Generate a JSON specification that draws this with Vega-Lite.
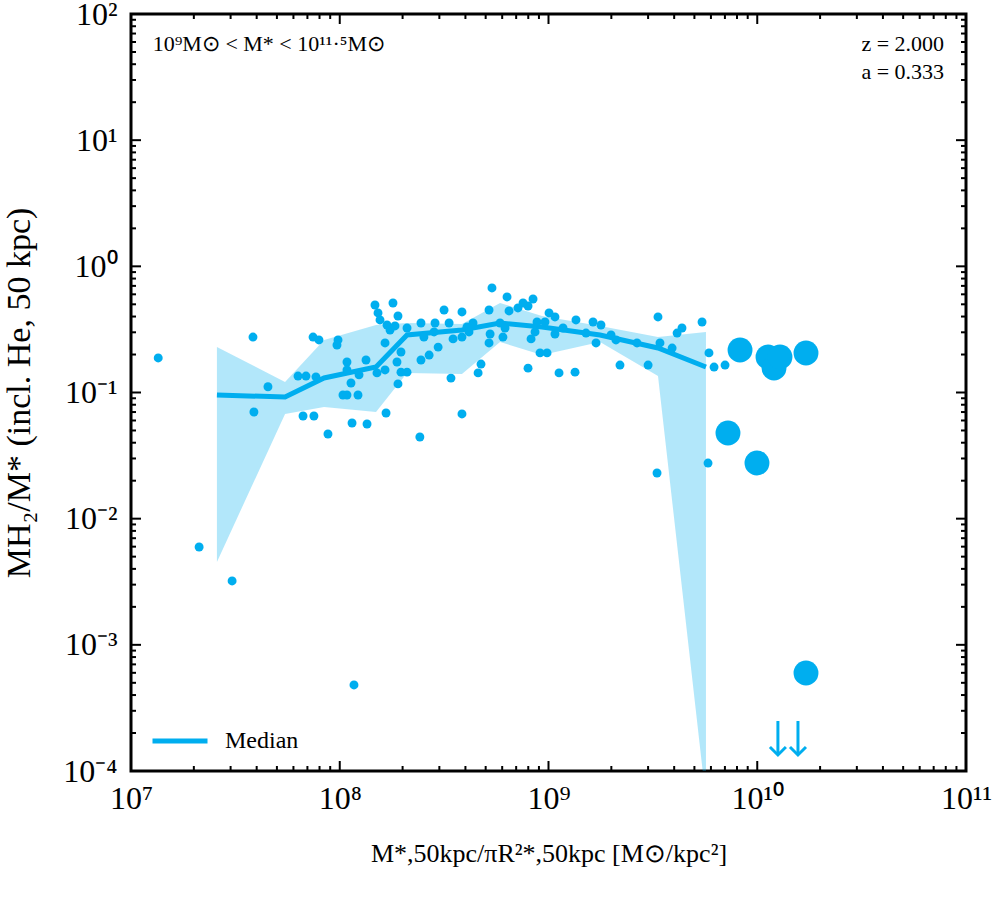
{
  "$schema": "https://vega.github.io/schema/vega-lite/v6.json",
  "width": 835,
  "height": 757,
  "autosize": "none",
  "padding": {"left": 131, "top": 14, "right": 30, "bottom": 129},
  "background": "white",
  "datasets": {
    "galaxies": [
      {"density": 1.35e7, "h2_frac": 0.188}, {"density": 2.12e7, "h2_frac": 0.00596}, {"density": 3.05e7, "h2_frac": 0.00321},
      {"density": 3.84e7, "h2_frac": 0.275}, {"density": 3.88e7, "h2_frac": 0.0701}, {"density": 4.53e7, "h2_frac": 0.111},
      {"density": 6.31e7, "h2_frac": 0.135}, {"density": 6.89e7, "h2_frac": 0.135}, {"density": 7.69e7, "h2_frac": 0.133},
      {"density": 6.67e7, "h2_frac": 0.0651}, {"density": 7.52e7, "h2_frac": 0.0651}, {"density": 7.45e7, "h2_frac": 0.275},
      {"density": 7.95e7, "h2_frac": 0.261}, {"density": 9.81e7, "h2_frac": 0.261}, {"density": 9.70e7, "h2_frac": 0.238},
      {"density": 8.78e7, "h2_frac": 0.0469}, {"density": 1.17e8, "h2_frac": 0.000481}, {"density": 1.083e8, "h2_frac": 0.1745},
      {"density": 1.083e8, "h2_frac": 0.151}, {"density": 1.132e8, "h2_frac": 0.119}, {"density": 1.036e8, "h2_frac": 0.0956},
      {"density": 1.083e8, "h2_frac": 0.0956}, {"density": 1.223e8, "h2_frac": 0.0956}, {"density": 1.237e8, "h2_frac": 0.138},
      {"density": 1.336e8, "h2_frac": 0.181}, {"density": 1.145e8, "h2_frac": 0.0573}, {"density": 1.351e8, "h2_frac": 0.0563},
      {"density": 1.475e8, "h2_frac": 0.494}, {"density": 1.799e8, "h2_frac": 0.512}, {"density": 1.525e8, "h2_frac": 0.427},
      {"density": 1.901e8, "h2_frac": 0.404}, {"density": 1.559e8, "h2_frac": 0.376}, {"density": 1.684e8, "h2_frac": 0.343},
      {"density": 1.741e8, "h2_frac": 0.313}, {"density": 1.839e8, "h2_frac": 0.337}, {"density": 1.648e8, "h2_frac": 0.247},
      {"density": 1.508e8, "h2_frac": 0.143}, {"density": 1.648e8, "h2_frac": 0.151}, {"density": 1.666e8, "h2_frac": 0.0688},
      {"density": 1.901e8, "h2_frac": 0.117}, {"density": 1.965e8, "h2_frac": 0.145}, {"density": 2.10e8, "h2_frac": 0.145},
      {"density": 1.965e8, "h2_frac": 0.2095}, {"density": 1.880e8, "h2_frac": 0.1745}, {"density": 2.10e8, "h2_frac": 0.3245},
      {"density": 2.45e8, "h2_frac": 0.3555}, {"density": 2.53e8, "h2_frac": 0.275}, {"density": 2.45e8, "h2_frac": 0.181},
      {"density": 2.68e8, "h2_frac": 0.198}, {"density": 2.96e8, "h2_frac": 0.229}, {"density": 2.42e8, "h2_frac": 0.0444},
      {"density": 2.86e8, "h2_frac": 0.3555}, {"density": 3.16e8, "h2_frac": 0.451}, {"density": 3.85e8, "h2_frac": 0.435},
      {"density": 3.34e8, "h2_frac": 0.3555}, {"density": 5.36e8, "h2_frac": 0.674}, {"density": 6.33e8, "h2_frac": 0.572},
      {"density": 5.19e8, "h2_frac": 0.451}, {"density": 6.47e8, "h2_frac": 0.443}, {"density": 7.14e8, "h2_frac": 0.468},
      {"density": 7.55e8, "h2_frac": 0.512}, {"density": 7.98e8, "h2_frac": 0.485}, {"density": 8.43e8, "h2_frac": 0.551},
      {"density": 2.83e8, "h2_frac": 0.302}, {"density": 3.49e8, "h2_frac": 0.266}, {"density": 3.85e8, "h2_frac": 0.275},
      {"density": 4.07e8, "h2_frac": 0.331}, {"density": 4.35e8, "h2_frac": 0.3555}, {"density": 4.16e8, "h2_frac": 0.302},
      {"density": 3.41e8, "h2_frac": 0.130}, {"density": 4.75e8, "h2_frac": 0.168}, {"density": 4.60e8, "h2_frac": 0.143},
      {"density": 5.19e8, "h2_frac": 0.247}, {"density": 5.25e8, "h2_frac": 0.291}, {"density": 6.05e8, "h2_frac": 0.275},
      {"density": 6.19e8, "h2_frac": 0.3245}, {"density": 5.86e8, "h2_frac": 0.3555}, {"density": 3.85e8, "h2_frac": 0.0676},
      {"density": 7.98e8, "h2_frac": 0.156}, {"density": 9.11e8, "h2_frac": 0.206}, {"density": 9.84e8, "h2_frac": 0.206},
      {"density": 8.25e8, "h2_frac": 0.266}, {"density": 8.62e8, "h2_frac": 0.302}, {"density": 8.81e8, "h2_frac": 0.362},
      {"density": 9.62e8, "h2_frac": 0.362}, {"density": 1.006e9, "h2_frac": 0.427}, {"density": 1.074e9, "h2_frac": 0.397},
      {"density": 1.074e9, "h2_frac": 0.291}, {"density": 1.174e9, "h2_frac": 0.3245}, {"density": 1.123e9, "h2_frac": 0.143},
      {"density": 1.34e9, "h2_frac": 0.145}, {"density": 1.354e9, "h2_frac": 0.376}, {"density": 1.634e9, "h2_frac": 0.362},
      {"density": 1.784e9, "h2_frac": 0.343}, {"density": 1.512e9, "h2_frac": 0.296}, {"density": 1.689e9, "h2_frac": 0.247},
      {"density": 1.993e9, "h2_frac": 0.286}, {"density": 2.105e9, "h2_frac": 0.261}, {"density": 2.654e9, "h2_frac": 0.247},
      {"density": 3.346e9, "h2_frac": 0.397}, {"density": 2.20e9, "h2_frac": 0.165}, {"density": 3.00e9, "h2_frac": 0.165},
      {"density": 3.42e9, "h2_frac": 0.247}, {"density": 3.91e9, "h2_frac": 0.225}, {"density": 4.13e9, "h2_frac": 0.296},
      {"density": 4.36e9, "h2_frac": 0.3245}, {"density": 5.44e9, "h2_frac": 0.362}, {"density": 5.87e9, "h2_frac": 0.206},
      {"density": 6.21e9, "h2_frac": 0.159}, {"density": 7.01e9, "h2_frac": 0.165}, {"density": 3.31e9, "h2_frac": 0.0230},
      {"density": 5.81e9, "h2_frac": 0.0276}
    ],
    "sparse_bins": [
      {"density": 8.27e9, "h2_frac": 0.2173}, {"density": 1.126e10, "h2_frac": 0.1912}, {"density": 1.203e10, "h2_frac": 0.1564},
      {"density": 1.285e10, "h2_frac": 0.1912}, {"density": 1.712e10, "h2_frac": 0.2057}, {"density": 7.24e9, "h2_frac": 0.0478},
      {"density": 9.97e9, "h2_frac": 0.0276}, {"density": 1.712e10, "h2_frac": 0.000598}
    ],
    "median": [
      {"density": 2.58e7, "med": 0.0956, "p16": 0.00454, "p84": 0.2294},
      {"density": 5.47e7, "med": 0.0921, "p16": 0.0676, "p84": 0.1212},
      {"density": 8.41e7, "med": 0.1303, "p16": 0.0768, "p84": 0.2607},
      {"density": 1.492e8, "med": 0.1593, "p16": 0.0701, "p84": 0.3428},
      {"density": 2.10e8, "med": 0.2856, "p16": 0.1428, "p84": 0.3555},
      {"density": 3.85e8, "med": 0.3129, "p16": 0.1402, "p84": 0.3491},
      {"density": 5.86e8, "med": 0.3555, "p16": 0.2514, "p84": 0.5122},
      {"density": 9.31e8, "med": 0.3306, "p16": 0.1983, "p84": 0.4041},
      {"density": 1.765e9, "med": 0.2856, "p16": 0.2514, "p84": 0.3366},
      {"density": 3.346e9, "med": 0.2253, "p16": 0.1352, "p84": 0.2754},
      {"density": 5.68e9, "med": 0.1593, "p16": 0.0000589, "p84": 0.3017}
    ],
    "upper_limits": [
      {"density": 1.256e10, "from": 0.000249, "limit": 0.000134},
      {"density": 1.567e10, "from": 0.000249, "limit": 0.000134}
    ],
    "x_major": [{"tick": 1e7}, {"tick": 1e8}, {"tick": 1e9}, {"tick": 1e10}, {"tick": 1e11}],
    "x_minor": [
      {"tick": 2e7}, {"tick": 3e7}, {"tick": 4e7}, {"tick": 5e7}, {"tick": 6e7}, {"tick": 7e7}, {"tick": 8e7}, {"tick": 9e7},
      {"tick": 2e8}, {"tick": 3e8}, {"tick": 4e8}, {"tick": 5e8}, {"tick": 6e8}, {"tick": 7e8}, {"tick": 8e8}, {"tick": 9e8},
      {"tick": 2e9}, {"tick": 3e9}, {"tick": 4e9}, {"tick": 5e9}, {"tick": 6e9}, {"tick": 7e9}, {"tick": 8e9}, {"tick": 9e9},
      {"tick": 2e10}, {"tick": 3e10}, {"tick": 4e10}, {"tick": 5e10}, {"tick": 6e10}, {"tick": 7e10}, {"tick": 8e10}, {"tick": 9e10}
    ],
    "y_major": [{"tick": 1e-4}, {"tick": 1e-3}, {"tick": 1e-2}, {"tick": 0.1}, {"tick": 1}, {"tick": 10}, {"tick": 100}],
    "y_minor": [
      {"tick": 2e-4}, {"tick": 3e-4}, {"tick": 4e-4}, {"tick": 5e-4}, {"tick": 6e-4}, {"tick": 7e-4}, {"tick": 8e-4}, {"tick": 9e-4},
      {"tick": 2e-3}, {"tick": 3e-3}, {"tick": 4e-3}, {"tick": 5e-3}, {"tick": 6e-3}, {"tick": 7e-3}, {"tick": 8e-3}, {"tick": 9e-3},
      {"tick": 0.02}, {"tick": 0.03}, {"tick": 0.04}, {"tick": 0.05}, {"tick": 0.06}, {"tick": 0.07}, {"tick": 0.08}, {"tick": 0.09},
      {"tick": 0.2}, {"tick": 0.3}, {"tick": 0.4}, {"tick": 0.5}, {"tick": 0.6}, {"tick": 0.7}, {"tick": 0.8}, {"tick": 0.9},
      {"tick": 2}, {"tick": 3}, {"tick": 4}, {"tick": 5}, {"tick": 6}, {"tick": 7}, {"tick": 8}, {"tick": 9},
      {"tick": 20}, {"tick": 30}, {"tick": 40}, {"tick": 50}, {"tick": 60}, {"tick": 70}, {"tick": 80}, {"tick": 90}
    ]
  },
  "layer": [
    {
      "data": {"name": "median"},
      "mark": {"type": "area", "color": "#00AEEF", "opacity": 0.3, "clip": true},
      "encoding": {
        "x": {"field": "density", "type": "quantitative",
              "scale": {"type": "log", "domain": [1e7, 1e11], "nice": false},
              "axis": {"orient": "bottom", "values": [1e7, 1e8, 1e9, 1e10, 1e11], "ticks": false,
                       "labelExpr": "datum.value == 1e7 ? '10⁷' : datum.value == 1e8 ? '10⁸' : datum.value == 1e9 ? '10⁹' : datum.value == 1e10 ? '10¹⁰' : '10¹¹'",
                       "labelPadding": 12,
                       "title": "M*,50kpc/πR²*,50kpc  [M⊙/kpc²]",
                       "titleFontSize": 26,
                       "titlePadding": 26}},
        "y": {"field": "p16", "type": "quantitative",
              "scale": {"type": "log", "domain": [1e-4, 100], "nice": false},
              "axis": {"orient": "left", "values": [1e-4, 1e-3, 1e-2, 0.1, 1, 10, 100], "ticks": false,
                       "labelExpr": "datum.value == 1e-4 ? '10⁻⁴' : datum.value == 1e-3 ? '10⁻³' : datum.value == 1e-2 ? '10⁻²' : datum.value == 0.1 ? '10⁻¹' : datum.value == 1 ? '10⁰' : datum.value == 10 ? '10¹' : '10²'",
                       "labelPadding": 14,
                       "title": "MH₂/M* (incl. He, 50 kpc)",
                       "titleFontSize": 34,
                       "titleBaseline": "middle",
                       "titleX": -112}},
        "y2": {"field": "p84"}
      }
    },
    {
      "data": {"name": "x_major"},
      "mark": {"type": "tick", "orient": "vertical", "size": 10, "thickness": 2, "color": "#000000", "opacity": 1},
      "encoding": {"x": {"field": "tick", "type": "quantitative"}, "y": {"datum": 1.0956e-4, "type": "quantitative"}}
    },
    {
      "data": {"name": "x_major"},
      "mark": {"type": "tick", "orient": "vertical", "size": 10, "thickness": 2, "color": "#000000", "opacity": 1},
      "encoding": {"x": {"field": "tick", "type": "quantitative"}, "y": {"datum": 91.27, "type": "quantitative"}}
    },
    {
      "data": {"name": "x_minor"},
      "mark": {"type": "tick", "orient": "vertical", "size": 5, "thickness": 2, "color": "#000000", "opacity": 1},
      "encoding": {"x": {"field": "tick", "type": "quantitative"}, "y": {"datum": 1.0467e-4, "type": "quantitative"}}
    },
    {
      "data": {"name": "x_minor"},
      "mark": {"type": "tick", "orient": "vertical", "size": 5, "thickness": 2, "color": "#000000", "opacity": 1},
      "encoding": {"x": {"field": "tick", "type": "quantitative"}, "y": {"datum": 95.54, "type": "quantitative"}}
    },
    {
      "data": {"name": "y_major"},
      "mark": {"type": "tick", "orient": "horizontal", "size": 10, "thickness": 2, "color": "#000000", "opacity": 1},
      "encoding": {"y": {"field": "tick", "type": "quantitative"}, "x": {"datum": 1.0567e7, "type": "quantitative"}}
    },
    {
      "data": {"name": "y_major"},
      "mark": {"type": "tick", "orient": "horizontal", "size": 10, "thickness": 2, "color": "#000000", "opacity": 1},
      "encoding": {"y": {"field": "tick", "type": "quantitative"}, "x": {"datum": 9.463e10, "type": "quantitative"}}
    },
    {
      "data": {"name": "y_minor"},
      "mark": {"type": "tick", "orient": "horizontal", "size": 5, "thickness": 2, "color": "#000000", "opacity": 1},
      "encoding": {"y": {"field": "tick", "type": "quantitative"}, "x": {"datum": 1.028e7, "type": "quantitative"}}
    },
    {
      "data": {"name": "y_minor"},
      "mark": {"type": "tick", "orient": "horizontal", "size": 5, "thickness": 2, "color": "#000000", "opacity": 1},
      "encoding": {"y": {"field": "tick", "type": "quantitative"}, "x": {"datum": 9.728e10, "type": "quantitative"}}
    },
    {
      "data": {"name": "median"},
      "mark": {"type": "line", "strokeWidth": 5, "strokeCap": "butt"},
      "encoding": {
        "x": {"field": "density", "type": "quantitative"},
        "y": {"field": "med", "type": "quantitative"},
        "color": {"datum": "Median", "type": "nominal",
                  "scale": {"range": ["#00AEEF"]},
                  "legend": {"title": null, "orient": "none", "legendX": 19, "legendY": 697,
                             "symbolType": "stroke", "symbolStrokeWidth": 5, "symbolSize": 3025,
                             "labelFontSize": 24, "labelOffset": 15, "padding": 0}}
      }
    },
    {
      "data": {"name": "galaxies"},
      "mark": {"type": "circle", "size": 80, "color": "#00AEEF", "opacity": 1},
      "encoding": {
        "x": {"field": "density", "type": "quantitative"},
        "y": {"field": "h2_frac", "type": "quantitative"}
      }
    },
    {
      "data": {"name": "sparse_bins"},
      "mark": {"type": "circle", "size": 620, "color": "#00AEEF", "opacity": 1},
      "encoding": {
        "x": {"field": "density", "type": "quantitative"},
        "y": {"field": "h2_frac", "type": "quantitative"}
      }
    },
    {
      "data": {"name": "upper_limits"},
      "mark": {"type": "rule", "color": "#00AEEF", "strokeWidth": 3},
      "encoding": {
        "x": {"field": "density", "type": "quantitative"},
        "y": {"field": "from", "type": "quantitative"},
        "y2": {"field": "limit"}
      }
    },
    {
      "data": {"name": "upper_limits"},
      "mark": {"type": "point", "shape": "M-1,-1L0,0L1,-1", "size": 256, "filled": false, "color": "#00AEEF", "strokeWidth": 3, "opacity": 1},
      "encoding": {
        "x": {"field": "density", "type": "quantitative"},
        "y": {"field": "limit", "type": "quantitative"}
      }
    },
    {
      "data": {"values": [{}]},
      "mark": {"type": "text", "align": "left", "baseline": "middle", "fontSize": 22, "font": "Liberation Serif"},
      "encoding": {
        "x": {"datum": 1.27e7, "type": "quantitative"},
        "y": {"datum": 57.8, "type": "quantitative"},
        "text": {"value": "10⁹M⊙ < M* < 10¹¹·⁵M⊙"}
      }
    },
    {
      "data": {"values": [{}]},
      "mark": {"type": "text", "align": "right", "baseline": "middle", "fontSize": 22, "font": "Liberation Serif"},
      "encoding": {
        "x": {"datum": 7.85e10, "type": "quantitative"},
        "y": {"datum": 57.8, "type": "quantitative"},
        "text": {"value": "z = 2.000"}
      }
    },
    {
      "data": {"values": [{}]},
      "mark": {"type": "text", "align": "right", "baseline": "middle", "fontSize": 22, "font": "Liberation Serif"},
      "encoding": {
        "x": {"datum": 7.85e10, "type": "quantitative"},
        "y": {"datum": 34.7, "type": "quantitative"},
        "text": {"value": "a = 0.333"}
      }
    }
  ],
  "config": {
    "font": "Liberation Serif",
    "view": {"stroke": "black", "strokeWidth": 3},
    "axis": {"grid": false, "domain": false,
             "labelFont": "Liberation Serif", "labelFontSize": 32, "labelColor": "black",
             "labelOverlap": false, "labelFlush": false, "labelBound": false,
             "titleFont": "Liberation Serif", "titleFontWeight": "normal", "titleColor": "black"},
    "legend": {"labelFont": "Liberation Serif", "labelColor": "black", "labelFontSize": 24}
  }
}
